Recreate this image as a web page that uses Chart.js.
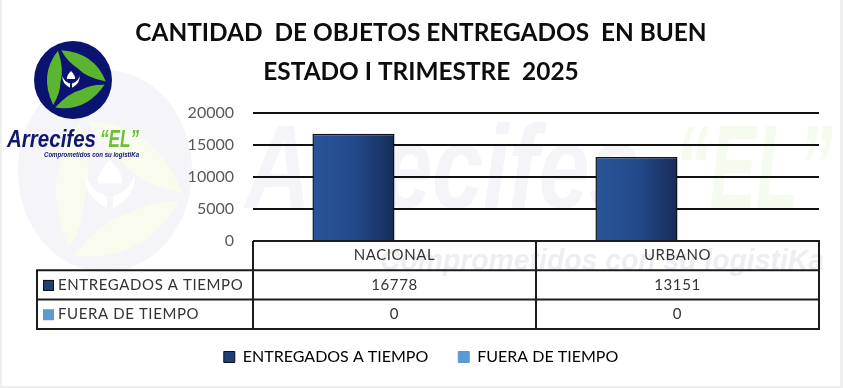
<!DOCTYPE html>
<html>
<head>
<meta charset="utf-8">
<title>Objetos entregados</title>
<script src="https://cdn.jsdelivr.net/npm/chart.js@4"></script>
<style>
  html, body { margin: 0; padding: 0; background: #fff; overflow: hidden; }
  canvas { display: block; }
</style>
</head>
<body>
<canvas id="chart" width="843" height="388"></canvas>
<script>
const categories = ['NACIONAL', 'URBANO'];
const entregados = [16778, 13151];
const fueraTiempo = [0, 0];
const seriesNames = ['ENTREGADOS A TIEMPO', 'FUERA DE TIEMPO'];
const titleLines = ['CANTIDAD  DE OBJETOS ENTREGADOS  EN BUEN', 'ESTADO I TRIMESTRE  2025'];
const tableSeries = [entregados, fueraTiempo];

const FONT = 'Lato, Carlito, sans-serif';
const catPercent = 0.58;

// gradient across one bar, left light to right dark
function barFill(context) {
  const chart = context.chart;
  if (!chart.chartArea || context.dataIndex === undefined) return '#1f3f78';
  const x = chart.scales.x;
  const cx = x.getPixelForValue(context.dataIndex);
  const w = (x.width / categories.length) * catPercent / 2;
  const g = chart.ctx.createLinearGradient(cx - w, 0, cx, 0);
  g.addColorStop(0, '#2a5599');
  g.addColorStop(0.5, '#234a8b');
  g.addColorStop(1, '#162c58');
  return g;
}

function swirl(ctx, cx, cy, sx, sy, color) {
  ctx.save();
  ctx.translate(cx, cy);
  ctx.scale(sx, sy);
  ctx.fillStyle = color;
  for (let i = 0; i < 3; i++) {
    ctx.beginPath();
    ctx.moveTo(-0.3, -0.76);
    ctx.quadraticCurveTo(0.55, -0.7, 0.84, 0.04);
    ctx.quadraticCurveTo(0.34, -0.06, 0.12, -0.3);
    ctx.quadraticCurveTo(-0.14, -0.46, -0.3, -0.76);
    ctx.closePath();
    ctx.fill();
    ctx.rotate(Math.PI * 2 / 3);
  }
  ctx.restore();
}

function hands(ctx, cx, cy, s, color) {
  ctx.save();
  ctx.translate(cx, cy);
  ctx.scale(s, s);
  ctx.fillStyle = color;
  ctx.beginPath();
  ctx.moveTo(0, -1);
  ctx.quadraticCurveTo(0.55, -0.45, 0.45, -0.1);
  ctx.lineTo(-0.45, -0.1);
  ctx.quadraticCurveTo(-0.55, -0.45, 0, -1);
  ctx.fill();
  [-1, 1].forEach(function (d) {
    ctx.beginPath();
    ctx.moveTo(d * 0.95, -0.45);
    ctx.quadraticCurveTo(d * 1.05, 0.35, d * 0.12, 0.85);
    ctx.lineTo(d * 0.1, 0.4);
    ctx.quadraticCurveTo(d * 0.75, 0.2, d * 0.95, -0.45);
    ctx.fill();
  });
  ctx.restore();
}

const backdrop = {
  id: 'backdrop',
  beforeDraw(chart) {
    const ctx = chart.ctx;
    ctx.save();
    ctx.fillStyle = '#ffffff';
    ctx.fillRect(0, 0, 843, 388);
    ctx.fillStyle = '#efefef';
    ctx.fillRect(0, 0, 2, 388);
    ctx.fillRect(840, 0, 3, 388);
    ctx.fillRect(0, 386, 843, 2);

    // faded logo behind the plot
    ctx.fillStyle = '#f4f4f9';
    ctx.beginPath();
    ctx.ellipse(105, 171, 87, 101, 0, 0, Math.PI * 2);
    ctx.fill();
    swirl(ctx, 112, 190, 84, 92, '#f8fbee');
    hands(ctx, 110, 186, 26, '#ffffff');

    ctx.textBaseline = 'alphabetic';
    ctx.textAlign = 'left';
    ctx.fillStyle = '#f4f4f9';
    ctx.font = 'italic bold 118px "Liberation Sans", sans-serif';
    ctx.fillText('Arrecifes', 245, 208, 395);
    ctx.fillStyle = '#f6fbf0';
    ctx.fillText('\u201CEL\u201D', 675, 208, 158);
    ctx.fillStyle = '#ededf3';
    ctx.font = 'italic bold 30px "Liberation Sans", sans-serif';
    ctx.fillText('Comprometidos con su logistiKa', 380, 270, 444);

    // logo
    ctx.fillStyle = '#0a1470';
    ctx.beginPath();
    ctx.arc(73, 80, 39, 0, Math.PI * 2);
    ctx.fill();
    swirl(ctx, 73, 80, 39, 39, '#5cb531');
    hands(ctx, 71, 80, 9, '#ffffff');

    ctx.fillStyle = '#10186c';
    ctx.font = 'italic bold 23px "Liberation Sans", sans-serif';
    ctx.fillText('Arrecifes', 7, 147, 89);
    ctx.fillStyle = '#6cbf3a';
    ctx.fillText('\u201CEL\u201D', 100, 147, 39);
    ctx.fillStyle = '#10186c';
    ctx.font = 'italic bold 7px "Liberation Sans", sans-serif';
    ctx.fillText('Comprometidos con su logistiKa', 44, 157, 95);
    ctx.restore();
  }
};

const dataTable = {
  id: 'dataTable',
  afterDraw(chart) {
    const ctx = chart.ctx;
    const area = chart.chartArea;
    const x = chart.scales.x;
    const colW = x.width / categories.length;
    const left = 37;
    const rowH = 29.3;
    const top = area.bottom;
    const bottom = top + rowH * 3;
    ctx.save();
    ctx.strokeStyle = '#1c1c1c';
    ctx.lineWidth = 2;
    ctx.beginPath();
    ctx.moveTo(area.left, top);
    ctx.lineTo(area.right, top);
    ctx.lineTo(area.right, bottom);
    ctx.lineTo(left, bottom);
    ctx.lineTo(left, top + rowH);
    ctx.lineTo(area.right, top + rowH);
    ctx.moveTo(left, top + rowH * 2);
    ctx.lineTo(area.right, top + rowH * 2);
    ctx.moveTo(area.left, top);
    ctx.lineTo(area.left, bottom);
    ctx.moveTo(area.left + colW, top);
    ctx.lineTo(area.left + colW, bottom);
    ctx.stroke();

    ctx.textBaseline = 'middle';
    ctx.font = '15px ' + FONT;
    ctx.letterSpacing = '0.6px';
    ctx.fillStyle = '#333333';
    ctx.textAlign = 'center';
    categories.forEach(function (c, i) {
      const cx = x.getPixelForValue(i);
      ctx.fillText(c, cx, top + rowH / 2);
      tableSeries.forEach(function (s, r) {
        ctx.fillText(String(s[i]), cx, top + rowH * (r + 1.5));
      });
    });
    ctx.textAlign = 'left';
    seriesNames.forEach(function (name, r) {
      const y = top + rowH * (r + 1.5);
      ctx.fillStyle = '#333333';
      ctx.fillText(name, 58, y);
      ctx.fillStyle = r === 0 ? '#1f3f78' : '#5b9bd5';
      ctx.fillRect(43, y - 5, 11, 11);
      if (r === 0) {
        ctx.strokeStyle = '#111';
        ctx.lineWidth = 1;
        ctx.strokeRect(43.5, y - 4.5, 10, 10);
      }
    });
    ctx.restore();
  }
};

new Chart(document.getElementById('chart').getContext('2d'), {
  type: 'bar',
  plugins: [backdrop, dataTable],
  data: {
    labels: categories,
    datasets: [
      { label: seriesNames[0], data: entregados, backgroundColor: barFill, borderColor: '#10131f', borderWidth: 1.5 },
      { label: seriesNames[1], data: fueraTiempo, backgroundColor: '#5b9bd5', borderWidth: 0 }
    ]
  },
  options: {
    responsive: false,
    animation: false,
    datasets: { bar: { barPercentage: 1, categoryPercentage: catPercent } },
    layout: { padding: { left: 23, right: 24, top: 14, bottom: 13 } },
    scales: {
      x: {
        grid: { display: false },
        border: { display: false },
        ticks: { display: false },
        afterFit(s) { s.height = 78; }
      },
      y: {
        min: 0,
        max: 20000,
        afterFit(s) { s.width = 230; },
        border: { display: false },
        grid: { color: '#111111', lineWidth: 2, drawTicks: false },
        ticks: {
          stepSize: 5000,
          color: '#595959',
          padding: 19,
          font: { family: FONT, size: 16 },
          callback(v) { return String(v); }
        }
      }
    },
    plugins: {
      title: {
        display: true,
        text: titleLines,
        color: '#0d0d0d',
        font: { family: FONT, size: 24.4, weight: 'bold', lineHeight: 1.58 },
        padding: { top: 0, bottom: 22 }
      },
      legend: {
        position: 'bottom',
        labels: {
          color: '#333333',
          boxWidth: 11,
          boxHeight: 11,
          padding: 30,
          font: { family: FONT, size: 16 },
          generateLabels() {
            return seriesNames.map(function (n, i) {
              return {
                text: n,
                fillStyle: i === 0 ? '#1f3f78' : '#5b9bd5',
                strokeStyle: i === 0 ? '#111111' : '#5b9bd5',
                lineWidth: 1,
                datasetIndex: i
              };
            });
          }
        }
      },
      tooltip: { enabled: false }
    }
  }
});
</script>
</body>
</html>
